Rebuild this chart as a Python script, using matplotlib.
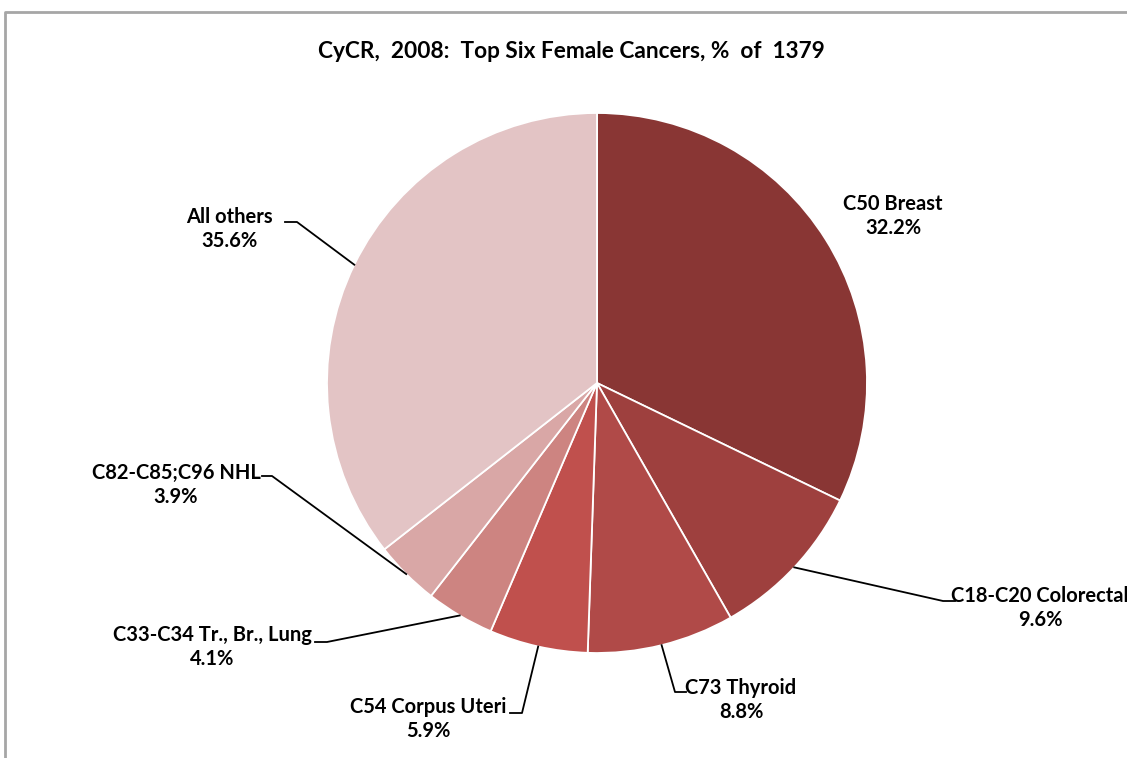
import matplotlib.pyplot as plt
import numpy as np

plt.rcParams['font.family'] = ['Lato', 'DejaVu Sans']

# data
labels = ['C50 Breast', 'C18-C20 Colorectal', 'C73 Thyroid', 'C54 Corpus Uteri',
          'C33-C34 Tr., Br., Lung', 'C82-C85;C96 NHL', 'All others']
shares = [32.2, 9.6, 8.8, 5.9, 4.1, 3.9, 35.6]
colors = ['#893634', '#9E403E', '#B04A48', '#C0504D', '#CD8481', '#D9A7A6', '#E3C4C5']

W, H = 1127, 758
fig = plt.figure(figsize=(W / 100, H / 100), dpi=100)
ax = fig.add_axes([0, 0, 1, 1])
ax.set_xlim(0, W)
ax.set_ylim(0, H)
ax.set_aspect('equal')
ax.axis('off')

cx, cy, R = 597, H - 383, 270
wedges, _ = ax.pie(shares, colors=colors, startangle=90, counterclock=False,
                   center=(cx, cy), radius=R, normalize=True,
                   wedgeprops=dict(edgecolor='white', linewidth=1.3))
ax.set_xlim(0, W)
ax.set_ylim(0, H)

# frame
ax.plot([5, 5, W], [0, H - 12, H - 12], color='#A6A6A6', lw=2, clip_on=False)

ax.text(571, H - 51, 'CyCR,  2008:  Top Six Female Cancers, %  of  1379',
        ha='center', va='center', fontsize=16.3, fontweight='bold')

# label placement: text centre, elbow point, end of short horizontal tick (pixels from top)
label_pos = {
    0: ((893, 216), None, None),
    1: ((1040, 608), (943, 601), (955, 601)),
    2: ((741, 700), (675, 692), (686, 692)),
    3: ((428, 719), (522, 713), (510, 713)),
    4: ((212, 647), (327, 642), (315, 642)),
    5: ((176, 485), (272, 476), (262, 476)),
    6: ((229, 229), (297, 222), (285, 222)),
}

for i, w in enumerate(wedges):
    mid = np.deg2rad((w.theta1 + w.theta2) / 2)
    ax_pt = (cx + R * np.cos(mid), cy + R * np.sin(mid))
    (tx, ty), elbow, tick = label_pos[i]
    ax.text(tx, H - ty, f'{labels[i]}\n{shares[i]:.1f}%', ha='center', va='center',
            fontsize=14.5, fontweight='bold', linespacing=1.25, clip_on=False)
    if elbow is not None:
        ax.plot([ax_pt[0], elbow[0], tick[0]], [ax_pt[1], H - elbow[1], H - tick[1]],
                color='black', lw=1.3, clip_on=False)

fig.savefig('out.png', dpi=100)
